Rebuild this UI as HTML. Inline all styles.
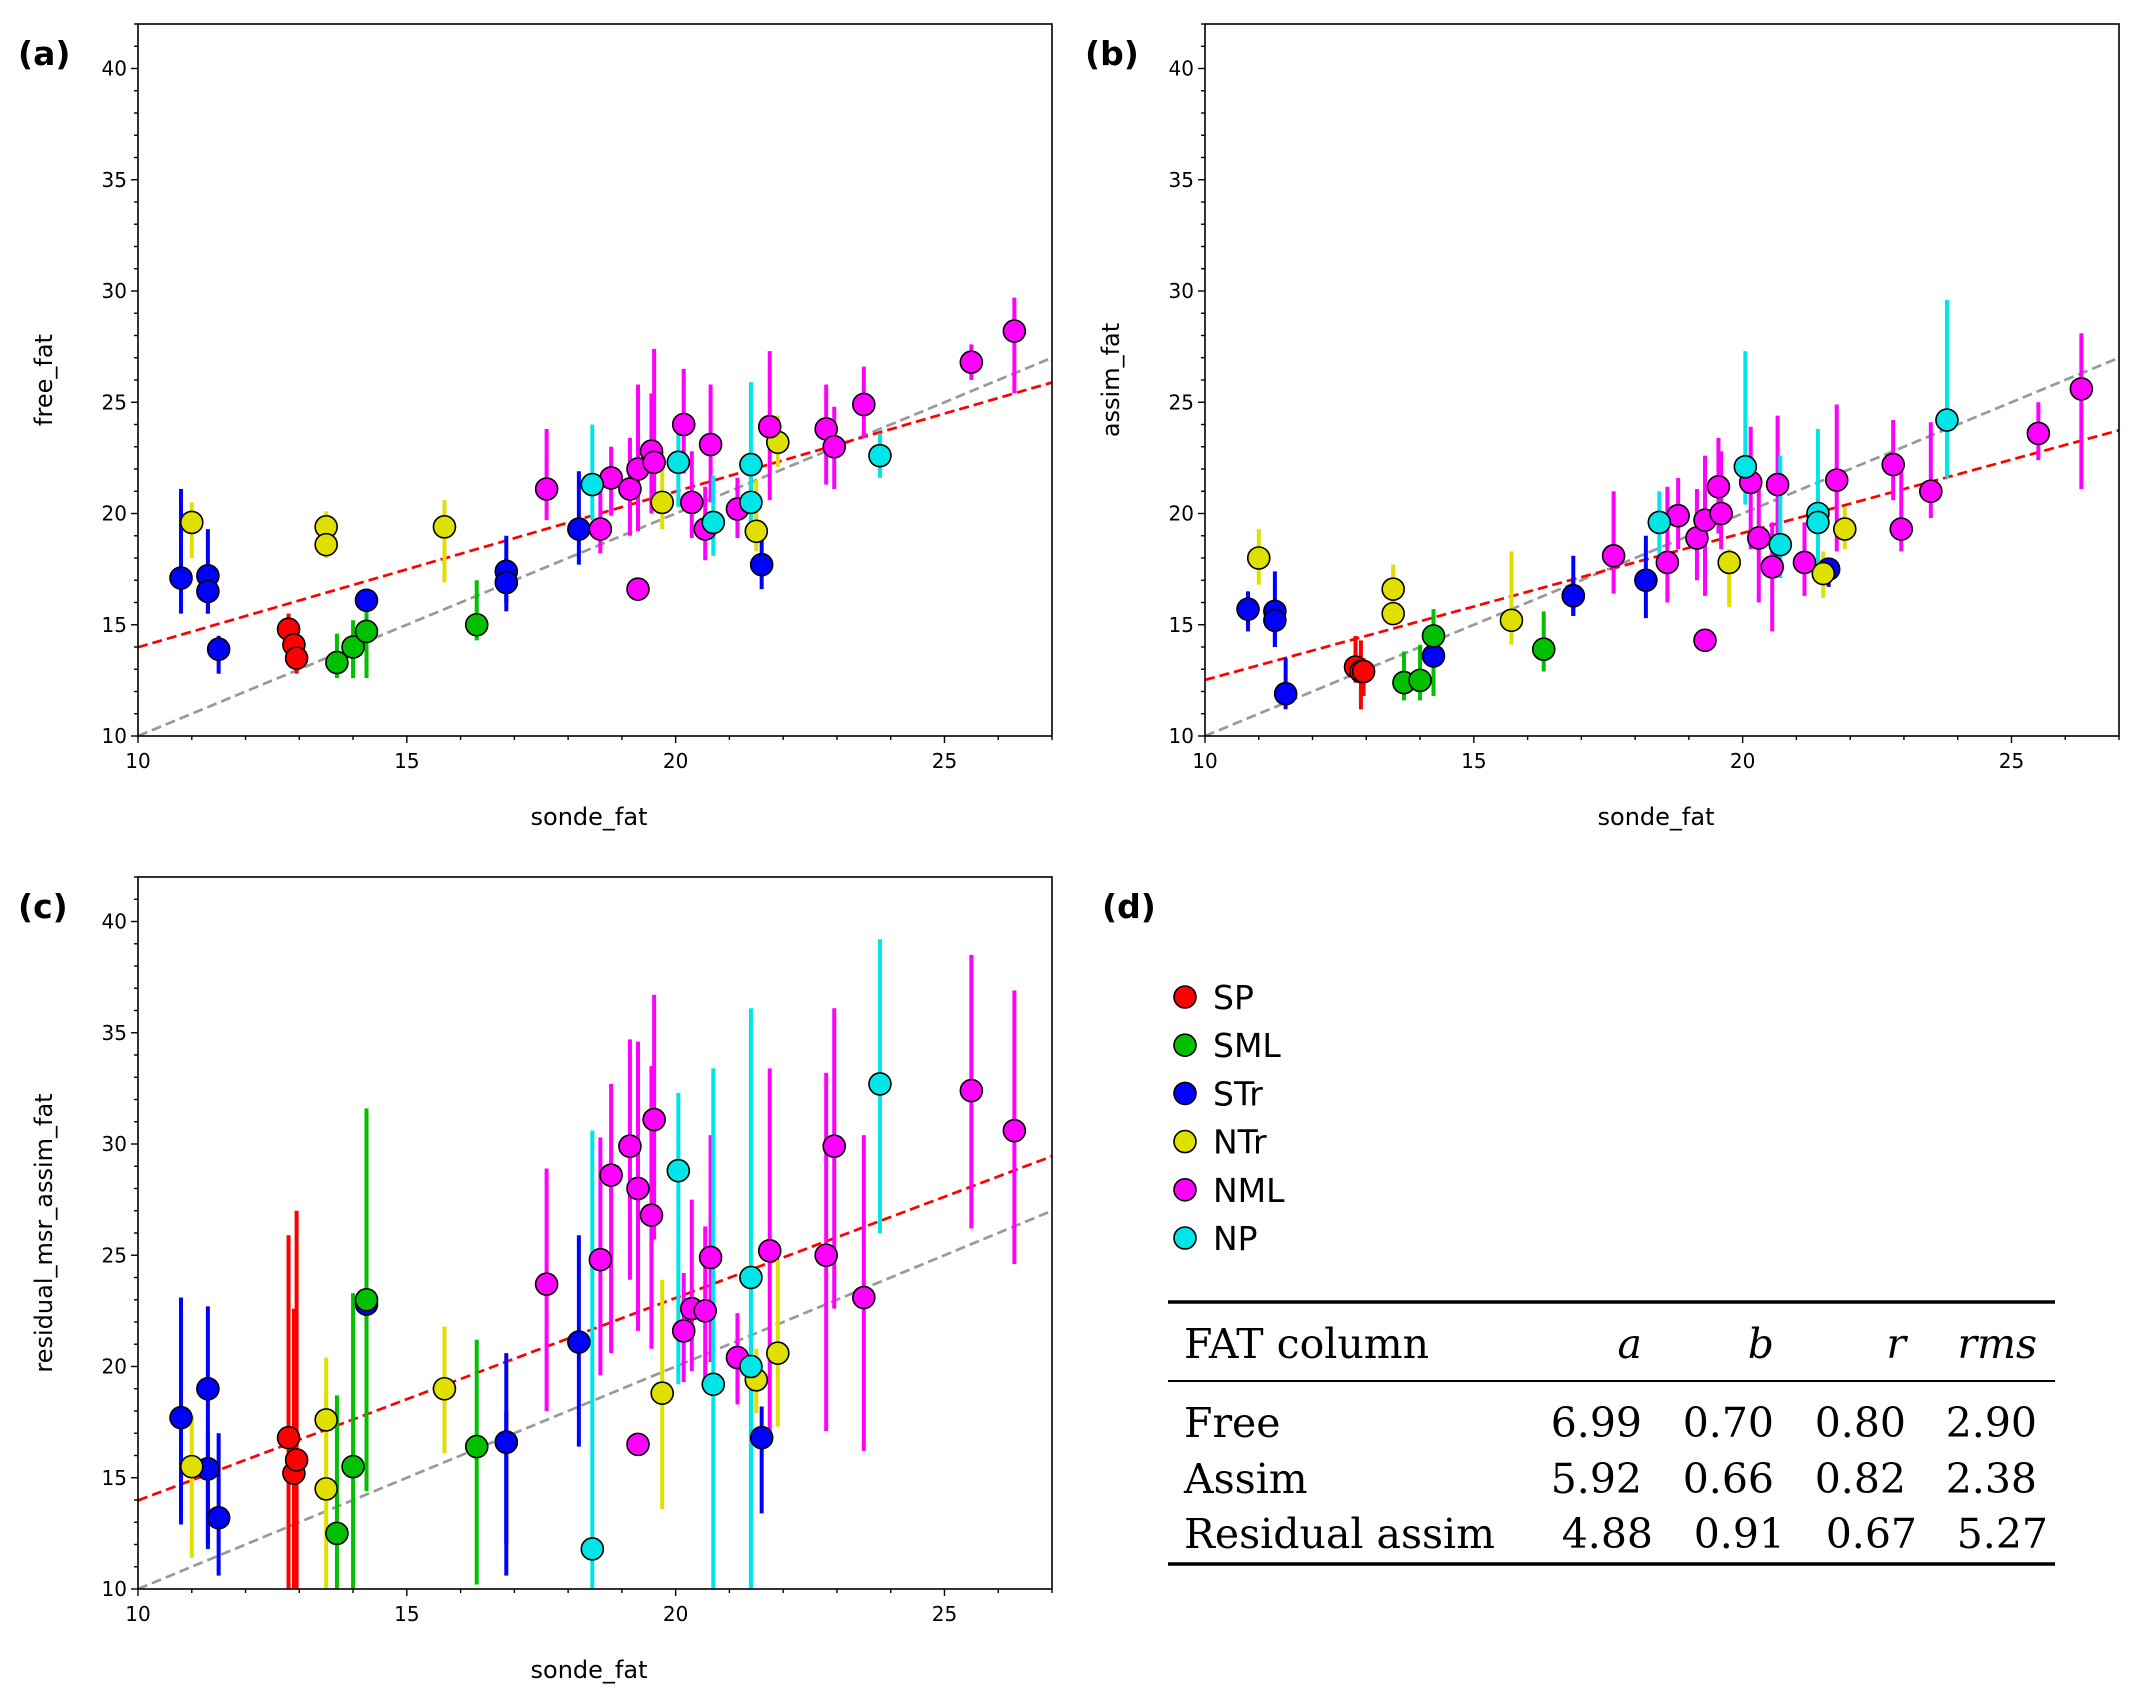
<!DOCTYPE html>
<html><head><meta charset="utf-8"><style>
body{margin:0;background:#fff;}
svg{display:block;font-family:"DejaVu Sans","Liberation Sans",sans-serif;}
</style></head><body>
<svg id="fig" width="2138" height="1708" viewBox="0 0 2138 1708" xmlns="http://www.w3.org/2000/svg">
<rect width="2138" height="1708" fill="#fff"/>
</svg>
<script>
const groupNames = ["SP","SML","STr","NTr","NML","NP"];
const groupColors = ["#ff0000","#00c000","#0000ff","#e0e000","#ff00ff","#00e5e5"];
const xTicks = [10,15,20,25];
const yTicks = [10,15,20,25,30,35,40];
// per-point: group index, sonde_fat
const ptGroup = [2,2,2,2,2,2,2,2,2, 0,0,0, 1,1,1,1, 3,3,3,3,3,3,3, 4,4,4,4,4,4,4,4,4,4,4,4,4,4,4,4,4,4,4, 5,5,5,5,5,5];
const sondeFat = [10.8,11.3,11.3,11.5,14.25,16.85,16.85,18.2,21.6, 12.8,12.9,12.95, 13.7,14.0,14.25,16.3, 11.0,13.5,13.5,15.7,19.75,21.5,21.9, 17.6,18.6,18.8,19.15,19.3,19.55,19.6,19.3,20.15,20.3,20.55,20.65,21.15,21.75,22.8,22.95,23.5,25.5,26.3, 18.45,20.05,20.7,21.4,21.4,23.8];
// panel a: free_fat
const freeVal = [17.1,17.2,16.5,13.9,16.1,17.4,16.9,19.3,17.7, 14.8,14.1,13.5, 13.3,14.0,14.7,15.0, 19.6,19.4,18.6,19.4,20.5,19.2,23.2, 21.1,19.3,21.6,21.1,22.0,22.8,22.3,16.6,24.0,20.5,19.3,23.1,20.2,23.9,23.8,23.0,24.9,26.8,28.2, 21.3,22.3,19.6,22.2,20.5,22.6];
const freeLo = [15.5,15.5,15.5,12.8,15.0,16.0,15.6,17.7,16.6, 13.8,13.2,12.8, 12.6,12.6,12.6,14.3, 18.0,18.6,18.0,16.9,19.3,18.3,22.1, 19.7,18.2,19.9,19.0,19.2,20.0,20.4,16.6,21.8,18.9,17.9,20.5,18.9,20.6,21.3,21.1,23.4,26.0,25.4, 19.7,20.3,18.1,19.6,19.0,21.6];
const freeHi = [21.1,19.3,17.5,14.5,16.5,19.0,18.0,21.9,19.5, 15.5,14.9,14.3, 14.6,15.2,16.1,17.0, 20.5,20.1,19.0,20.6,22.8,21.5,24.4, 23.8,21.3,23.0,23.4,25.8,25.4,27.4,16.6,26.5,22.8,21.2,25.8,21.6,27.3,25.8,24.8,26.6,27.6,29.7, 24.0,23.9,21.7,25.9,22.8,23.6];
// panel b: assim_fat
const assimVal = [15.7,15.6,15.2,11.9,13.6,16.3,16.3,17.0,17.5, 13.1,12.9,12.9, 12.4,12.5,14.5,13.9, 18.0,16.6,15.5,15.2,17.8,17.3,19.3, 18.1,17.8,19.9,18.9,19.7,21.2,20.0,14.3,21.4,18.9,17.6,21.3,17.8,21.5,22.2,19.3,21.0,23.6,25.6, 19.6,22.1,18.6,20.0,19.6,24.2];
const assimLo = [14.7,14.0,14.0,11.2,12.6,15.4,15.4,15.3,16.7, 12.4,11.2,11.8, 11.6,11.6,11.8,12.9, 16.8,15.9,15.0,14.1,15.8,16.2,18.4, 16.4,16.0,18.4,17.0,16.3,19.1,18.4,14.3,18.4,16.0,14.7,19.0,16.3,18.3,20.6,18.3,19.8,22.4,21.1, 17.6,20.4,17.1,17.0,18.5,21.6];
const assimHi = [16.5,17.4,16.0,13.5,14.5,18.1,17.0,19.0,18.0, 14.5,14.3,13.5, 13.8,14.1,15.7,15.6, 19.3,17.7,16.2,18.3,18.4,18.3,20.3, 21.0,21.2,21.6,21.1,22.6,23.4,22.8,14.3,23.9,21.2,19.6,24.4,19.6,24.9,24.2,22.2,24.1,25.0,28.1, 21.0,27.3,22.6,23.8,21.0,29.6];
// panel c: residual_msr_assim_fat
const resVal = [17.7,19.0,15.4,13.2,22.8,16.6,16.6,21.1,16.8, 16.8,15.2,15.8, 12.5,15.5,23.0,16.4, 15.5,17.6,14.5,19.0,18.8,19.4,20.6, 23.7,24.8,28.6,29.9,28.0,26.8,31.1,16.5,21.6,22.6,22.5,24.9,20.4,25.2,25.0,29.9,23.1,32.4,30.6, 11.8,28.8,19.2,24.0,20.0,32.7];
const resLo = [12.9,11.8,12.0,10.6,18.9,10.6,12.0,16.4,13.4, 10,10,10, 10,10,14.4,10.2, 11.4,14.6,10,16.1,13.6,17.9,17.3, 18.0,19.6,20.6,23.9,21.6,20.8,25.7,16.5,19.3,19.8,19.0,20.2,18.3,16.9,17.1,22.6,16.2,26.2,24.6, 10,19.2,10,10,10,26.0];
const resHi = [23.1,22.7,17.0,17.0,23.3,20.6,18.0,25.9,18.2, 25.9,22.6,27.0, 18.7,23.3,31.6,21.2, 17.8,20.4,18.6,21.8,23.9,20.8,24.8, 28.9,30.3,32.7,34.7,34.6,33.5,36.7,16.5,24.2,27.5,26.3,30.4,22.4,33.4,33.2,36.1,30.4,38.5,36.9, 30.6,32.3,33.4,36.1,24.0,39.2];
const fitA = [6.99,5.92,4.88];
const fitB = [0.70,0.66,0.91];

const NS="http://www.w3.org/2000/svg";
const svg=document.getElementById('fig');
function mk(tag,attrs,parent){const e=document.createElementNS(NS,tag);for(const k in attrs)e.setAttribute(k,attrs[k]);(parent||svg).appendChild(e);return e;}

function panel(L,T,name,ylab,letter,vals,lo,hi,ai){
  const W=914,H=712,R=L+W,B=T+H;
  const sx=v=>L+(v-10)/17*W, sy=v=>B-(v-10)/32*H;
  const g=mk('g',{});
  
  
  const cid='clip'+ai;
  const cp=mk('clipPath',{id:cid},g);mk('rect',{x:L,y:T,width:W,height:H},cp);
  const pg=mk('g',{'clip-path':'url(#'+cid+')'},g);
  const one=mk('line',{x1:sx(10),y1:sy(10),x2:sx(27),y2:sy(27),stroke:'#999',"stroke-width":2.7,"stroke-dasharray":"10 5"},pg);
  
  
  const fl=mk('line',{x1:sx(10),y1:sy(fitA[ai]+fitB[ai]*10),x2:sx(27),y2:sy(fitA[ai]+fitB[ai]*27),stroke:'#ff0000',"stroke-width":2.7,"stroke-dasharray":"10 5"},pg);
  
  
  for(let i=0;i<sondeFat.length;i++){
    const e=mk('line',{x1:sx(sondeFat[i]),x2:sx(sondeFat[i]),y1:sy(lo[i]),y2:sy(hi[i]),stroke:groupColors[ptGroup[i]],"stroke-width":4},pg);
    
    
  }
  for(let i=0;i<sondeFat.length;i++){
    const c=mk('circle',{cx:sx(sondeFat[i]),cy:sy(vals[i]),r:11,fill:groupColors[ptGroup[i]],stroke:'#000',"stroke-width":1.6},pg);
    
    
  }
  const fr=mk('rect',{x:L,y:T,width:W,height:H,fill:'none',stroke:'#000',"stroke-width":1.6},g);
  
  
  for(let v=10;v<=27;v++){mk('line',{x1:sx(v),x2:sx(v),y1:B,y2:B+(v%5===0?7:4),stroke:'#000',"stroke-width":1.4},g);}
  for(let v=10;v<=42;v++){mk('line',{x1:L,x2:L-(v%5===0?7:4),y1:sy(v),y2:sy(v),stroke:'#000',"stroke-width":1.4},g);}
  xTicks.forEach(v=>{const t=mk('text',{x:sx(v),y:B+32,"font-size":20,"text-anchor":"middle"},g);t.textContent=v;
    
    });
  yTicks.forEach(v=>{const t=mk('text',{x:L-11,y:sy(v)+7,"font-size":20,"text-anchor":"end"},g);t.textContent=v;
    
    });
  const xl=mk('text',{x:L+W/2-6,y:B+89,"font-size":24,"text-anchor":"middle"},g);xl.textContent='sonde_fat';
  
  
  const yl=mk('text',{x:L-86,y:T+H/2,"font-size":24,"text-anchor":"middle",transform:`rotate(-90 ${L-86} ${T+H/2})`},g);yl.textContent=ylab;
  
  
  const pl=mk('text',{x:L-120,y:T+41,"font-size":33,"font-weight":"bold"},g);pl.textContent=letter;
  
  
}
panel(138,24,'panel-a','free_fat','(a)',freeVal,freeLo,freeHi,0);
panel(1205,24,'panel-b','assim_fat','(b)',assimVal,assimLo,assimHi,1);
panel(138,877,'panel-c','residual_msr_assim_fat','(c)',resVal,resLo,resHi,2);

const dl=mk('text',{x:1102,y:918,"font-size":33,"font-weight":"bold"});dl.textContent='(d)';


const leg=mk('g',{});


groupNames.forEach((n,i)=>{
  const y=997+i*48.2;
  const c=mk('circle',{cx:1185,cy:y,r:11,fill:groupColors[i],stroke:'#000',"stroke-width":1.6},leg);
  
  
  const t=mk('text',{x:1213,y:y+12,"font-size":33},leg);t.textContent=n;
  
  
});
const tb=mk('g',{"font-family":'"DejaVu Serif","Liberation Serif",serif',"font-size":41});


mk('line',{x1:1168,x2:2055,y1:1302,y2:1302,stroke:'#000',"stroke-width":3.5},tb);
mk('line',{x1:1168,x2:2055,y1:1381,y2:1381,stroke:'#000',"stroke-width":2},tb);
mk('line',{x1:1168,x2:2055,y1:1564,y2:1564,stroke:'#000',"stroke-width":3.5},tb);
const rows=[["FAT column","a","b","r","rms",1358,true,0],["Free","6.99","0.70","0.80","2.90",1437,false,0],["Assim","5.92","0.66","0.82","2.38",1493,false,0],["Residual assim","4.88","0.91","0.67","5.27",1548,false,11]];
const colR=[1642,1774,1906,2037];
rows.forEach(r=>{
  const t=mk('text',{x:1184,y:r[5]},tb);t.textContent=r[0];
  
  
  for(let k=0;k<4;k++){
    const a={x:colR[k]+r[7],y:r[5],"text-anchor":"end"};if(r[6])a["font-style"]="italic";
    const c=mk('text',a,tb);c.textContent=r[k+1];
    
    
  }
});
</script>
</body></html>
